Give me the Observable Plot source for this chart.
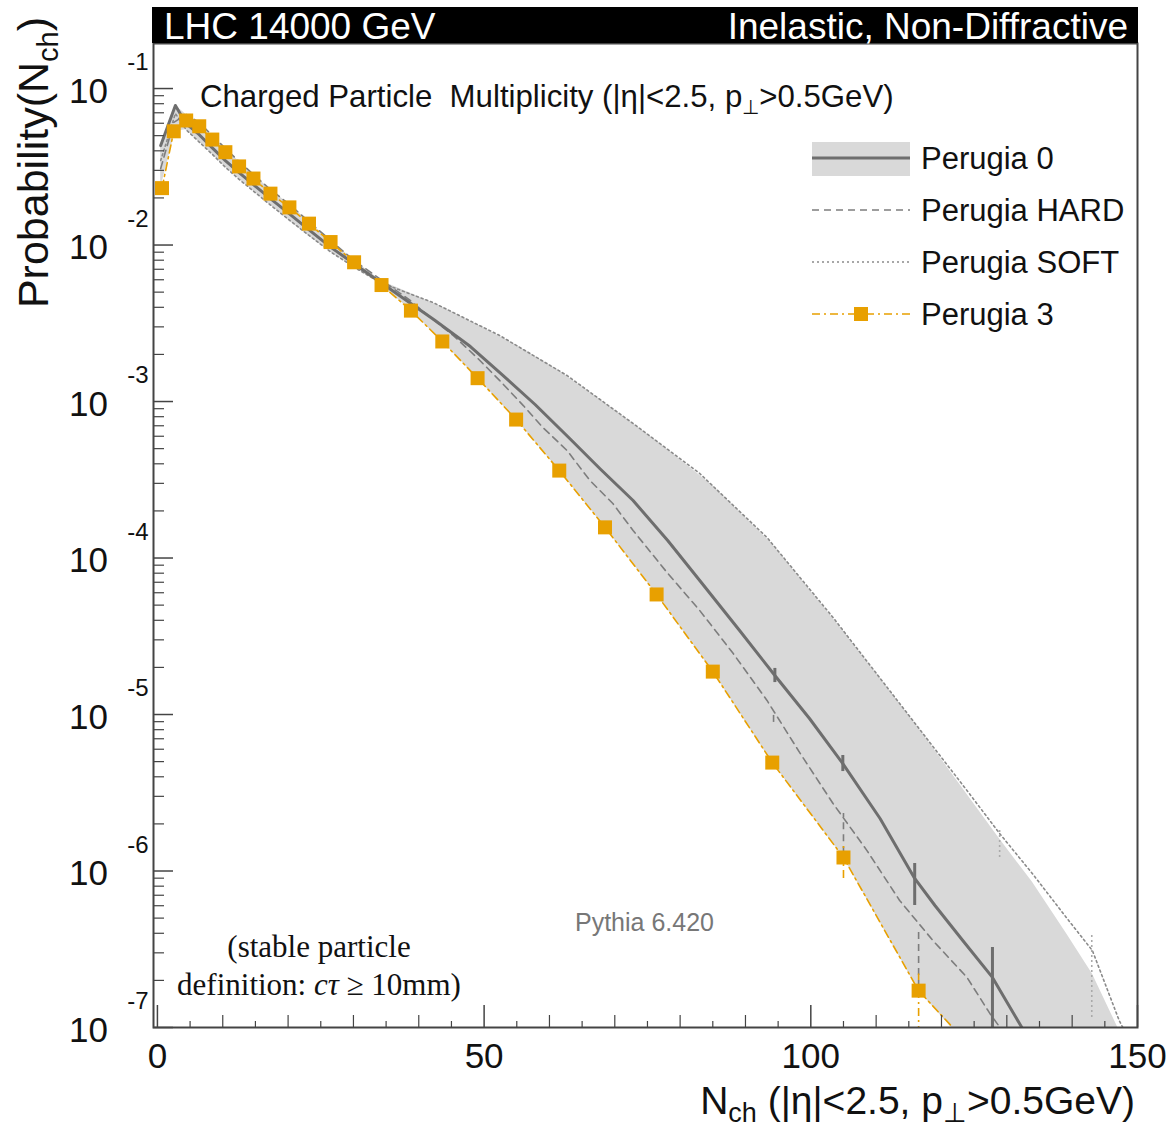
<!DOCTYPE html>
<html>
<head>
<meta charset="utf-8">
<script src="https://cdn.jsdelivr.net/npm/d3@7"></script>
<script src="https://cdn.jsdelivr.net/npm/@observablehq/plot@0.6"></script>
<style>
  html, body { margin: 0; padding: 0; background: #fff; }
  #chart { width: 1174px; height: 1128px; }
  svg text { white-space: pre; }
</style>
</head>
<body>
<div id="chart"></div>
<script>
// ---------------- DATA ----------------
const titleLeft = "LHC 14000 GeV";
const titleRight = "Inelastic, Non-Diffractive";
const legendLabels = ["Perugia 0", "Perugia HARD", "Perugia SOFT", "Perugia 3"];
const xTickLabels = [0, 50, 100, 150];
const yDecades = [-7, -6, -5, -4, -3, -2, -1];

// Perugia 0 (solid line)
const p0N = [0.5, 2.75, 4.4, 6.4, 8.4, 10.4, 12.5, 14.7, 17.3, 20.3, 23.4, 26.5, 30.1, 34.4, 39.0, 42.5, 47.9, 52.4, 57.8, 63.1, 67.7, 72.8, 78.1, 83.0, 89.1, 94.5, 99.8, 104.9, 110.6, 115.9, 119.0, 123.5, 127.8, 132.3, 136.5];
const p0P = [0.0432, 0.0779, 0.0596, 0.0507, 0.0418, 0.0346, 0.0290, 0.0243, 0.0198, 0.0157, 0.0123, 0.0097, 7.6e-3, 5.68e-3, 4.17e-3, 3.29e-3, 2.245e-3, 1.532e-3, 9.57e-4, 5.80e-4, 3.73e-4, 2.33e-4, 1.294e-4, 7.18e-5, 3.44e-5, 1.775e-5, 9.43e-6, 4.86e-6, 2.165e-6, 8.96e-7, 6.02e-7, 3.49e-7, 2.09e-7, 1.0e-7, 4.93e-8];
const p0ErrN = [94.5, 104.9, 115.9, 127.8];
const p0ErrLo = [1.60e-5, 4.32e-6, 6.02e-7, 1e-9];
const p0ErrHi = [1.97e-5, 5.47e-6, 1.117e-6, 3.24e-7];

// Perugia HARD (dashed)
const hardN = [0.5, 2.5, 4.4, 6.4, 8.4, 10.4, 12.5, 14.7, 17.3, 20.2, 23.2, 26.5, 30.1, 34.4, 38.7, 41.4, 45.3, 48.9, 52.4, 56.0, 59.0, 62.7, 66.2, 69.7, 72.8, 78.0, 83.0, 88.1, 93.3, 98.3, 103.4, 108.6, 113.6, 118.7, 123.9, 127.4, 130.4];
const hardP = [0.0308, 0.0607, 0.0682, 0.0607, 0.0501, 0.0414, 0.0342, 0.0282, 0.0226, 0.0182, 0.0141, 0.0107, 7.96e-3, 5.93e-3, 4.42e-3, 3.55e-3, 2.64e-3, 1.91e-3, 1.36e-3, 9.42e-4, 6.82e-4, 4.86e-4, 3.13e-4, 2.23e-4, 1.50e-4, 8.08e-5, 4.62e-5, 2.46e-5, 1.23e-5, 5.71e-6, 2.70e-6, 1.35e-6, 6.48e-7, 3.59e-7, 2.09e-7, 1.23e-7, 8.26e-8];
const hardErrN = [94.3, 105.0, 116.5];
const hardErrLo = [8.9e-6, 1.29e-6, 1.80e-7];
const hardErrHi = [1.03e-5, 2.33e-6, 4.36e-7];

// Perugia SOFT (dotted)
const softN = [0.5, 2.75, 4.4, 6.4, 8.4, 10.4, 12.5, 14.7, 17.3, 20.3, 23.4, 26.5, 30.1, 34.1, 42.2, 52.4, 62.7, 72.8, 83.0, 93.3, 103.4, 113.6, 123.9, 128.9, 133.9, 139.1, 143.1, 147.2, 148.8];
const softP = [0.0347, 0.0692, 0.0545, 0.0455, 0.0380, 0.0314, 0.0263, 0.0221, 0.0180, 0.01430, 0.01135, 0.00905, 0.00722, 0.00576, 0.00429, 0.00264, 0.001466, 7.24e-4, 3.47e-4, 1.352e-4, 4.17e-5, 1.176e-5, 3.27e-6, 1.736e-6, 9.64e-7, 5.05e-7, 3.10e-7, 1.108e-7, 8.26e-8];
const softErrN = [128.9, 143.0];
const softErrLo = [1.22e-6, 1.16e-7];
const softErrHi = [1.90e-6, 3.99e-7];

// Perugia 3 (orange squares)
const p3N = [0.7, 2.5, 4.4, 6.4, 8.4, 10.4, 12.5, 14.7, 17.3, 20.2, 23.2, 26.5, 30.1, 34.3, 38.8, 43.6, 49.0, 54.9, 61.5, 68.5, 76.4, 85.0, 94.1, 105.0, 116.5];
const p3P = [0.0231, 0.0533, 0.0625, 0.0574, 0.0472, 0.0392, 0.0318, 0.0266, 0.0213, 0.0174, 0.0137, 0.01045, 0.00776, 0.00555, 0.00381, 0.00242, 0.00141, 7.67e-4, 3.62e-4, 1.57e-4, 5.85e-5, 1.88e-5, 4.93e-6, 1.22e-6, 1.72e-7];
const p3NextN = [129.0];
const p3NextP = [4.7e-8];
const p3ErrN = [105.0, 116.5];
const p3ErrLo = [8.96e-7, 1e-9];
const p3ErrHi = [1.50e-6, 2.2e-7];

// Variation band (light grey envelope)
const bandN = [0.5, 2.75, 4.4, 6.4, 8.4, 10.4, 12.5, 14.7, 17.3, 20.2, 23.2, 26.5, 30.1, 34.3, 38.8, 43.6, 49.0, 54.9, 61.5, 68.5, 76.4, 85.0, 94.1, 105.0, 116.5, 128.9, 133.9, 139.1, 143.1, 147.5];
const bandHi = [0.0433, 0.0779, 0.0682, 0.0607, 0.0501, 0.0414, 0.0342, 0.0282, 0.0226, 0.0182, 0.0141, 0.0107, 0.0080, 0.0059, 0.0049, 0.0040, 0.0031, 0.0023, 0.00157, 9.8e-4, 5.6e-4, 2.9e-4, 1.23e-4, 3.4e-5, 8.2e-6, 1.6e-6, 8.5e-7, 4.0e-7, 2.2e-7, 9e-8];
const bandLo = [0.0231, 0.0533, 0.0545, 0.0455, 0.0380, 0.0314, 0.0263, 0.0221, 0.0180, 0.0143, 0.0114, 0.0090, 0.0072, 0.00555, 0.00381, 0.00242, 0.00141, 7.67e-4, 3.62e-4, 1.57e-4, 5.85e-5, 1.88e-5, 4.93e-6, 1.22e-6, 1.72e-7, 4.5e-8, 2e-8, 1e-8, 5e-9, 3e-9];

// ---------------- STYLE ----------------
const FONT = "'Liberation Sans', Arial, Helvetica, sans-serif";
const SERIF = "'Liberation Serif', 'Times New Roman', serif";
const BAND = "#d9d9d9";
const C0 = "#6e6e6e";
const CH = "#7d7d7d";
const CS = "#8a8a8a";
const C3 = "#e8a000";
const AXIS = "#444";

const W = 1174, H = 1128;
const mL = 153, mR = 37, mT = 43, mB = 101;
const fw = W - mL - mR, fh = H - mT - mB;

const rows = (N, P) => N.map((n, i) => ({n, p: P[i]}));
const errs = (N, L, U) => N.map((n, i) => ({n, lo: L[i], hi: U[i]}));
const p0 = rows(p0N, p0P);
const hard = rows(hardN, hardP);
const soft = rows(softN, softP);
const p3 = rows(p3N, p3P);
const p3Line = p3.concat(rows(p3NextN, p3NextP));
const band = bandN.map((n, i) => ({n, lo: bandLo[i], hi: bandHi[i]}));

const xMajor = xTickLabels;
const xMid = d3.range(10, 150, 10).filter(v => v % 50 !== 0);
const xMinor = d3.range(5, 150, 10);
const yMajor = yDecades.map(e => Math.pow(10, e));
const yMinor = [];
for (const e of yDecades.slice(0, -1)) for (let k = 2; k <= 9; k++) yMinor.push(k * Math.pow(10, e));

const plot = Plot.plot({
  width: W, height: H,
  marginLeft: mL, marginRight: mR, marginTop: mT, marginBottom: mB,
  style: {fontFamily: FONT, background: "#fff", color: "#111"},
  x: {domain: [-0.6, 150], axis: null},
  y: {type: "log", domain: [1e-7, 0.194], axis: null},
  marks: [
    Plot.areaY(band, {x: "n", y1: "lo", y2: "hi", fill: BAND, clip: true}),
    Plot.line(soft, {x: "n", y: "p", stroke: CS, strokeWidth: 1.6, strokeDasharray: "2,3", clip: true}),
    Plot.ruleX(errs(softErrN, softErrLo, softErrHi), {x: "n", y1: "lo", y2: "hi", stroke: "#aaa", strokeWidth: 1.6, strokeDasharray: "2,3", clip: true}),
    Plot.line(hard, {x: "n", y: "p", stroke: CH, strokeWidth: 1.6, strokeDasharray: "7,5", clip: true}),
    Plot.ruleX(errs(hardErrN, hardErrLo, hardErrHi), {x: "n", y1: "lo", y2: "hi", stroke: CH, strokeWidth: 1.6, strokeDasharray: "7,5", clip: true}),
    Plot.line(p3Line, {x: "n", y: "p", stroke: C3, strokeWidth: 1.6, strokeDasharray: "8,4,2,4", clip: true}),
    Plot.ruleX(errs(p3ErrN, p3ErrLo, p3ErrHi), {x: "n", y1: "lo", y2: "hi", stroke: C3, strokeWidth: 1.6, strokeDasharray: "8,4,2,4", clip: true}),
    Plot.line(p0, {x: "n", y: "p", stroke: C0, strokeWidth: 3, clip: true}),
    Plot.ruleX(errs(p0ErrN, p0ErrLo, p0ErrHi), {x: "n", y1: "lo", y2: "hi", stroke: C0, strokeWidth: 3, clip: true}),
    Plot.dot(p3, {x: "n", y: "p", symbol: "square", r: 7.9, fill: C3, stroke: "none", clip: true}),
    // inward ticks
    Plot.tickX(xMajor, {x: d => d, insetTop: fh - 22, stroke: AXIS, strokeWidth: 1.5}),
    Plot.tickX(xMid, {x: d => d, insetTop: fh - 12, stroke: AXIS, strokeWidth: 1.2}),
    Plot.tickX(xMinor, {x: d => d, insetTop: fh - 6, stroke: AXIS, strokeWidth: 1.2}),
    Plot.tickY(yMajor, {y: d => d, insetRight: fw - 20, stroke: AXIS, strokeWidth: 1.5}),
    Plot.tickY(yMinor, {y: d => d, insetRight: fw - 11, stroke: AXIS, strokeWidth: 1.2}),
    Plot.frame({stroke: AXIS, strokeWidth: 2}),
    // tick labels
    Plot.text(xMajor, {x: d => d, text: d => String(d), frameAnchor: "bottom", lineAnchor: "middle", textAnchor: "middle", dy: 29, fontSize: 35, fill: "#111"}),
    Plot.text(yMajor, {y: d => d, text: () => "10", frameAnchor: "left", lineAnchor: "middle", textAnchor: "middle", dx: -65, dy: 3, fontSize: 35, fill: "#111"}),
    Plot.text(yMajor, {y: d => d, text: d => String(Math.round(Math.log10(d))), frameAnchor: "left", lineAnchor: "middle", dx: -5, dy: -26, textAnchor: "end", fontSize: 24, fill: "#111"})
  ]
});

document.getElementById("chart").appendChild(plot);

// ---------------- decorations (title bar, labels, legend, notes) ----------------
const svg = d3.select(plot);
const g = svg.append("g").attr("font-family", FONT).attr("text-anchor", "start");

// black title bar
g.append("rect").attr("x", mL - 1).attr("y", 7).attr("width", fw + 2).attr("height", 36).attr("fill", "#000");
g.append("text").attr("x", 164).attr("y", 39).attr("fill", "#fff").attr("font-size", 37).attr("text-anchor", "start").text(titleLeft);
g.append("text").attr("x", 1128).attr("y", 39).attr("fill", "#fff").attr("font-size", 37).attr("text-anchor", "end").text(titleRight);

// subtitle inside frame
const st = g.append("text").attr("x", 200).attr("y", 107).attr("font-size", 31.2).attr("fill", "#111").attr("text-anchor", "start");
st.append("tspan").text("Charged Particle  Multiplicity (|\u03B7|<2.5, p");
st.append("tspan").attr("font-size", 20).attr("dy", 7).text("\u22A5");
st.append("tspan").attr("dy", -7).text(">0.5GeV)");

// x label
const xl = g.append("text").attr("x", 1135).attr("y", 1114).attr("font-size", 39).attr("text-anchor", "end").attr("fill", "#111");
xl.append("tspan").text("N");
xl.append("tspan").attr("font-size", 27).attr("dy", 8).text("ch");
xl.append("tspan").attr("dy", -8).text(" (|\u03B7|<2.5, p");
xl.append("tspan").attr("font-size", 27).attr("dy", 8).text("\u22A5");
xl.append("tspan").attr("dy", -8).text(">0.5GeV)");

// y label
const yl = g.append("text").attr("transform", "translate(48,17) rotate(-90)").attr("font-size", 43).attr("text-anchor", "end").attr("fill", "#111");
yl.append("tspan").text("Probability(N");
yl.append("tspan").attr("font-size", 29).attr("dy", 10).text("ch");
yl.append("tspan").attr("dy", -10).text(")");

// legend
const lx0 = 812, lx1 = 910, ltx = 921, rowsY = [158, 210, 262, 314];
g.append("rect").attr("x", lx0).attr("y", rowsY[0] - 16).attr("width", lx1 - lx0).attr("height", 34).attr("fill", BAND);
g.append("line").attr("x1", lx0).attr("x2", lx1).attr("y1", rowsY[0]).attr("y2", rowsY[0]).attr("stroke", C0).attr("stroke-width", 3);
g.append("line").attr("x1", lx0).attr("x2", lx1).attr("y1", rowsY[1]).attr("y2", rowsY[1]).attr("stroke", CH).attr("stroke-width", 1.6).attr("stroke-dasharray", "7,5");
g.append("line").attr("x1", lx0).attr("x2", lx1).attr("y1", rowsY[2]).attr("y2", rowsY[2]).attr("stroke", CS).attr("stroke-width", 1.6).attr("stroke-dasharray", "2,3");
g.append("line").attr("x1", lx0).attr("x2", lx1).attr("y1", rowsY[3]).attr("y2", rowsY[3]).attr("stroke", C3).attr("stroke-width", 1.6).attr("stroke-dasharray", "8,4,2,4");
g.append("rect").attr("x", 861 - 7).attr("y", rowsY[3] - 7).attr("width", 14).attr("height", 14).attr("fill", C3);
legendLabels.forEach((t, i) => {
  g.append("text").attr("x", ltx).attr("y", rowsY[i] + 11).attr("font-size", 31).attr("fill", "#111").attr("text-anchor", "start").text(t);
});

// generator note
g.append("text").attr("x", 575).attr("y", 931).attr("font-size", 25).attr("fill", "#777").attr("text-anchor", "start").text("Pythia 6.420");

// stable particle note (serif)
const note = g.append("g").attr("font-family", SERIF).attr("font-size", 31).attr("fill", "#111").attr("text-anchor", "middle");
note.append("text").attr("x", 319).attr("y", 957).text("(stable particle");
const n2 = note.append("text").attr("x", 319).attr("y", 995);
n2.append("tspan").text("definition: ");
n2.append("tspan").attr("font-style", "italic").text("c\u03C4");
n2.append("tspan").text(" \u2265 10mm)");
</script>
</body>
</html>
